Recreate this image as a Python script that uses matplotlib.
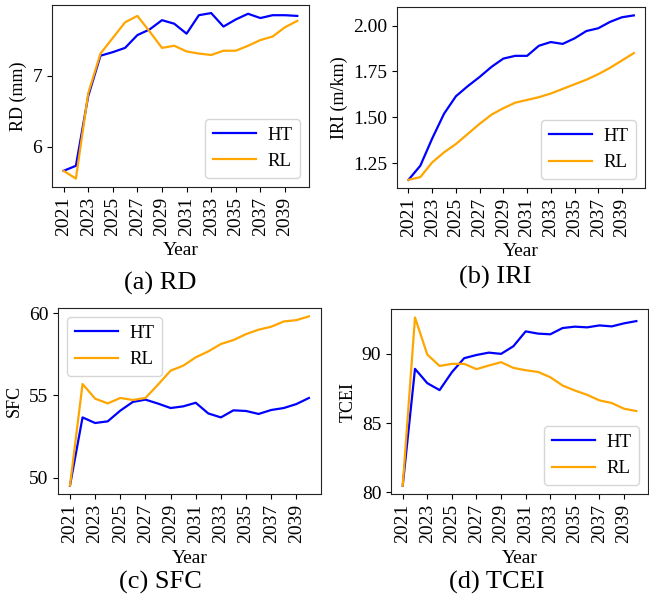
import matplotlib
matplotlib.use("Agg")
import matplotlib.pyplot as plt
import numpy as np

years = list(range(2021, 2041))

rd_ht = [5.66, 5.73, 6.71, 7.28, 7.33, 7.39, 7.57, 7.65, 7.78, 7.73,
         7.59, 7.85, 7.88, 7.69, 7.79, 7.87, 7.81, 7.85, 7.85, 7.84]
rd_rl = [5.66, 5.55, 6.75, 7.31, 7.53, 7.75, 7.84, 7.62, 7.39, 7.42,
         7.34, 7.31, 7.29, 7.35, 7.35, 7.42, 7.50, 7.55, 7.68, 7.77]

iri_ht = [1.16, 1.237, 1.385, 1.52, 1.615, 1.67, 1.72, 1.775, 1.82, 1.835,
          1.835, 1.89, 1.91, 1.90, 1.93, 1.97, 1.985, 2.02, 2.045, 2.055]
iri_rl = [1.16, 1.175, 1.255, 1.31, 1.355, 1.41, 1.465, 1.515, 1.55, 1.58,
          1.595, 1.61, 1.63, 1.655, 1.68, 1.705, 1.735, 1.77, 1.81, 1.85]

sfc_ht = [49.51, 53.66, 53.32, 53.42, 54.07, 54.6, 54.74, 54.5, 54.23, 54.33,
          54.55, 53.9, 53.66, 54.09, 54.05, 53.87, 54.11, 54.23, 54.47, 54.84]
sfc_rl = [49.51, 55.69, 54.8, 54.51, 54.84, 54.72, 54.84, 55.65, 56.5, 56.8,
          57.31, 57.67, 58.12, 58.36, 58.72, 58.99, 59.17, 59.49, 59.57, 59.8]

tcei_ht = [80.48, 88.9, 87.87, 87.37, 88.66, 89.67, 89.9, 90.07, 89.98, 90.53,
           91.6, 91.44, 91.39, 91.84, 91.94, 91.89, 92.03, 91.96, 92.18, 92.34]
tcei_rl = [80.48, 92.6, 89.93, 89.11, 89.26, 89.26, 88.88, 89.14, 89.38, 88.97,
           88.8, 88.68, 88.3, 87.7, 87.34, 87.03, 86.63, 86.44, 86.03, 85.86]

series_labels = ["HT", "RL"]
ylabels = ["RD (mm)", "IRI (m/km)", "SFC", "TCEI"]
captions = ["(a) RD", "(b) IRI", "(c) SFC", "(d) TCEI"]
xticks = list(range(2021, 2040, 2))

plt.rcParams['font.family'] = ['Liberation Serif', 'DejaVu Serif']

fig = plt.figure(figsize=(6.49, 5.99), dpi=100)

positions = [
    [0.080, 0.688, 0.396, 0.304],
    [0.612, 0.686, 0.382, 0.302],
    [0.0894, 0.175, 0.405, 0.311],
    [0.6025, 0.175, 0.396, 0.309],
]
data = [(rd_ht, rd_rl), (iri_ht, iri_rl), (sfc_ht, sfc_rl), (tcei_ht, tcei_rl)]
legend_locs = ["lower right", "lower right", "upper left", "lower right"]
cap_pos = [(0.247, 0.527), (0.763, 0.537), (0.247, 0.028), (0.766, 0.028)]

for i in range(4):
    ax = fig.add_axes(positions[i])
    ht, rl = data[i]
    ax.plot(years, ht, color="#0000FF", lw=1.6, label=series_labels[0])
    ax.plot(years, rl, color="#FFA500", lw=1.6, label=series_labels[1])
    ax.set_xticks(xticks)
    ax.set_xticklabels([str(y) for y in xticks], rotation=90, fontsize=14)
    ax.tick_params(axis='y', labelsize=14)
    ax.set_xlabel("Year", fontsize=14, labelpad=4.5)
    ax.set_ylabel(ylabels[i], fontsize=13)
    if i == 1:
        ax.set_yticks([1.25, 1.50, 1.75, 2.00])
        ax.set_yticklabels(["1.25", "1.50", "1.75", "2.00"])
    ax.legend(loc=legend_locs[i], fontsize=13.5, handlelength=2.3,
              handletextpad=0.6)
    for sp in ax.spines.values():
        sp.set_color("#222222")
    fig.text(cap_pos[i][0], cap_pos[i][1], captions[i], fontsize=19,
             ha='center', va='center')

fig.savefig("out.png", dpi=100)
